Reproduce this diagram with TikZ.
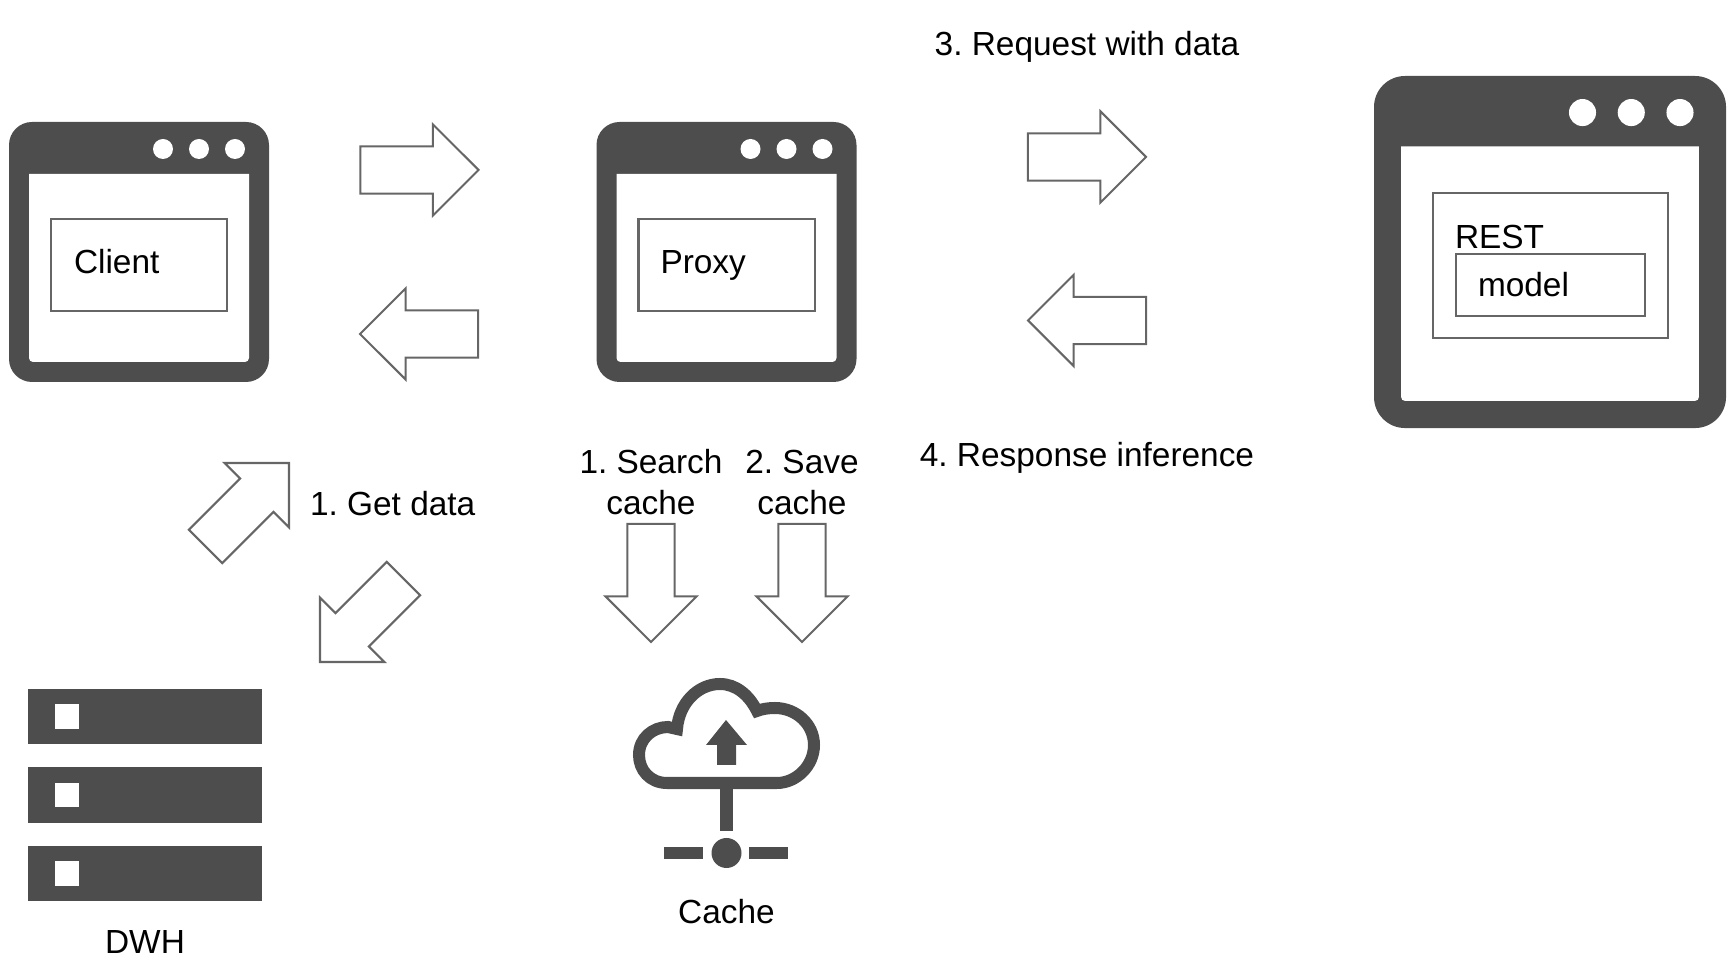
\documentclass[tikz,border=0pt]{standalone}
\usepackage{fontspec}
\setmainfont{Liberation Sans}
\usetikzlibrary{shapes.arrows}
\definecolor{icondark}{HTML}{4D4D4D}
\definecolor{arrowline}{HTML}{666666}
\frenchspacing
\tikzset{blockarrow/.style={shape=single arrow,draw=arrowline,fill=white,line width=0.6pt,
    single arrow head extend=0.22cm,single arrow tip angle=90,single arrow head indent=0pt,
    inner xsep=0pt,inner ysep=0.225cm,outer sep=0pt,minimum height=1.18cm,anchor=tip}}
\tikzset{panel/.style={draw=arrowline,line width=0.6pt,inner sep=0pt,outer sep=0pt}}
\tikzset{caption/.style={inner sep=0pt,outer sep=0pt,font=\fontsize{9.5}{11.85}\selectfont,text=black}}
\tikzset{rackbar/.style={fill=icondark,inner sep=0pt,outer sep=0pt,minimum width=2.34cm,minimum height=0.55cm}}
\tikzset{rackled/.style={fill=white,inner sep=0pt,outer sep=0pt,minimum size=0.24cm}}
\tikzset{pics/appwindow/.style={code={
    \fill[icondark,rounded corners=#1] (0,0) rectangle (260,260);
    \fill[white] (20,52) -- (240,52) {[rounded corners=0.04cm] -- (240,240) -- (20,240)} -- cycle;
    \foreach \dotx in {154,190,226}
        \fill[white] (\dotx,27) circle (10);
}}}

\begin{document}
\begin{tikzpicture}[x=0.01cm, y=-0.01cm]
    \useasboundingbox (0,0) rectangle (1732,964);

    % windows
    \pic (clientwin) at (9,122) {appwindow=0.23cm};
    \pic (proxywin) at (596.5,122) {appwindow=0.23cm};
    \pic[scale=1.354] (restwin) at (1374,76) {appwindow=0.31cm};

    \node[panel,minimum width=1.76cm,minimum height=0.92cm] (clientbox) at (139,265) {};
    \node[caption,anchor=base west] (clienttext) at (74,274) {Client};
    \node[panel,minimum width=1.76cm,minimum height=0.92cm] (proxybox) at (726.5,265) {};
    \node[caption,anchor=base west] (proxytext) at (660.5,274) {Proxy};
    \node[panel,minimum width=2.35cm,minimum height=1.45cm] (restbox) at (1550.5,265.5) {};
    \node[caption,anchor=base west] (resttext) at (1455,249) {REST};
    \node[panel,minimum width=1.89cm,minimum height=0.62cm] (modelbox) at (1550.5,285) {};
    \node[caption,anchor=base west] (modeltext) at (1478,297) {model};

    % arrows
    \node[blockarrow] (clientout) at (478.5,170) {};
    \node[blockarrow,rotate=180] (clientin) at (360,334) {};
    \node[blockarrow] (restout) at (1146,157) {};
    \node[blockarrow,rotate=180] (restin) at (1028,320.5) {};
    \node[blockarrow,rotate=45] (dwhup) at (289,463) {};
    \node[blockarrow,rotate=225] (dwhdown) at (320,662) {};
    \node[blockarrow,rotate=270] (searchdown) at (651,642) {};
    \node[blockarrow,rotate=270] (savedown) at (802,642) {};

    % labels
    \node[caption,anchor=base] (requestlabel) at (1087,56) {3. Request with data};
    \node[caption,anchor=base] (responselabel) at (1087,467) {4. Response inference};
    \node[caption,anchor=base west] (getlabel) at (310,516) {1. Get data};
    \node[caption,anchor=base,align=center] (searchlabel) at (651,515) {1. Search\\cache};
    \node[caption,anchor=base,align=center] (savelabel) at (802,515) {2. Save\\cache};
    \node[caption,anchor=base] (dwhlabel) at (145,954) {DWH};
    \node[caption,anchor=base] (cachelabel) at (726.5,924) {Cache};

    % server rack
    \foreach \name/\ypos in {a/716.5,b/795,c/873.5}{
        \node[rackbar] (rack\name) at (145,\ypos) {};
        \node[rackled] (led\name) at (67,\ypos) {};
    }

    % cloud
    \draw[icondark,line width=0.12cm,miter limit=4] (667,783) .. controls (650,783) and (639,770) .. (639,755)
        .. controls (639,738) and (653,727) .. (668,727) -- (677,729)
        .. controls (679,703) and (698,684) .. (720,684)
        .. controls (736,684) and (749,695) .. (757,711)
        .. controls (762,709) and (768,708) .. (775,708)
        .. controls (796,708) and (814,724) .. (814,745)
        .. controls (814,766) and (796,783) .. (777,783) -- cycle;
    \fill[icondark] (726,720) -- (747,745) -- (736,745) -- (736,765) -- (717,765) -- (717,745) -- (706,745) -- cycle;
    \fill[icondark] (720,783) rectangle (733,831);
    \fill[icondark] (726.5,853) circle (15);
    \fill[icondark] (664,847) rectangle (703,859);
    \fill[icondark] (749,847) rectangle (788,859);
\end{tikzpicture}
\end{document}
